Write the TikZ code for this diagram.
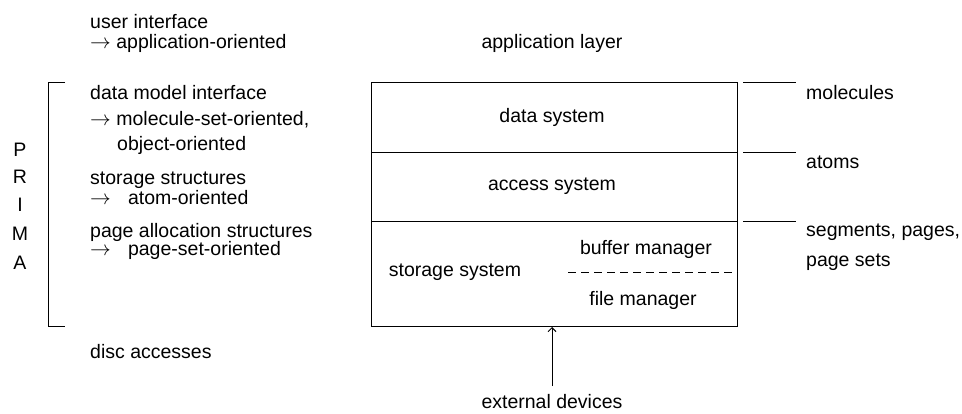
\documentclass[tikz,border=0pt]{standalone}
\usepackage{fontspec}
\setmainfont{Liberation Sans}
\usetikzlibrary{arrows.meta}
\begin{document}
\begin{tikzpicture}[x=1pt,y=-1pt,
  txt/.style={inner sep=0pt, font=\fontsize{19.5}{22}\selectfont},
  lt/.style={txt, anchor=west},
  ln/.style={line width=1pt, black}]
\useasboundingbox (0,0) rectangle (962,414);
% left column
\node[lt] (ui) at (90,22) {user interface};
\node[lt] (ui2) at (90,43) {$\rightarrow$ application-oriented};
\node[lt] (dm) at (90,93) {data model interface};
\node[lt] (dm2) at (90,120) {$\rightarrow$ molecule-set-oriented,};
\node[lt] (dm3) at (117,145) {object-oriented};
\node[lt] (ss) at (90,180) {storage structures};
\node[lt] (ss2) at (90,198) {$\rightarrow$\hspace{0.6em} atom-oriented};
\node[lt] (pa) at (90,232) {page allocation structures};
\node[lt] (pa2) at (90,250) {$\rightarrow$\hspace{0.6em} page-set-oriented};
\node[lt] (da) at (90,352) {disc accesses};
% PRIMA
\foreach \l/\y/\n in {P/150/p1,R/177/p2,I/205/p3,M/234/p4,A/263/p5}
  \node[txt] (\n) at (20,\y) {\l};
% bracket
\draw[ln] (65,83) -- (48,83) -- (48,327) -- (65,327);
% main box
\node[txt] (al) at (552,43) {application layer};
\draw[ln] (371,83) rectangle (737,327);
\draw[ln] (371,153) -- (737,153);
\draw[ln] (371,222) -- (737,222);
\draw[ln, dashed, dash pattern=on 8pt off 5pt] (568,273) -- (737,273);
\node[txt] (ds) at (552,117) {data system};
\node[txt] (as) at (552,186) {access system};
\node[txt] (sts) at (455,272) {storage system};
\node[txt] (bm) at (646,249) {buffer manager};
\node[txt] (fm) at (643,300) {file manager};
\coordinate (boxbot) at (552,327);
% right side
\draw[ln] (743,83) -- (796,83);
\draw[ln] (743,153) -- (796,153);
\draw[ln] (743,222) -- (796,222);
\node[lt] (mol) at (806,93) {molecules};
\node[lt] (at) at (806,162) {atoms};
\node[lt] (seg) at (806,232) {segments, pages,};
\node[lt] (ps) at (806,262) {page sets};
% external devices
\node[txt] (ed) at (552,402) {external devices};
\coordinate (arrs) at (552,386);
\draw[ln, -{Straight Barb[length=4pt,width=8pt]}] (arrs) -- (boxbot);
\end{tikzpicture}
\end{document}
